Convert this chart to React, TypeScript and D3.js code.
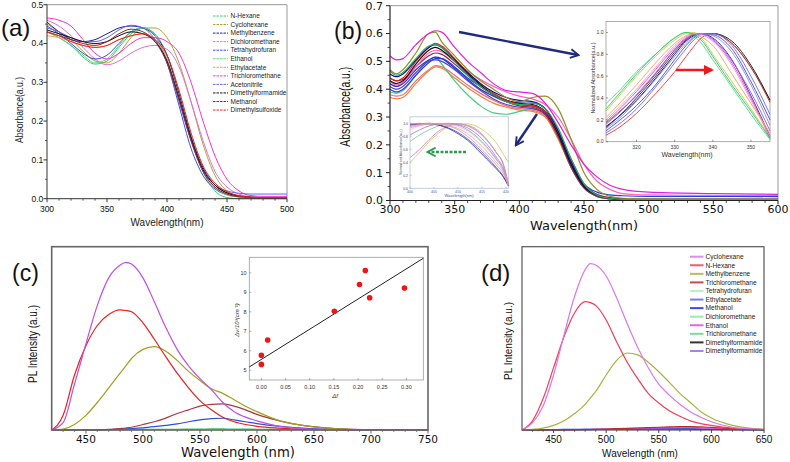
import React from "react";
import * as d3 from "d3";

const NARROW = "'Liberation Sans', Arial, sans-serif";
const WIDE = "'DejaVu Sans', Verdana, sans-serif";

// ---------------- Panel (a) ----------------
const waveA = [300, 310, 320, 330, 340, 350, 360, 370, 380, 390, 400, 410, 420, 430, 440, 450, 460, 470, 480, 490, 500];
const aNHexane = [0.43, 0.415, 0.395, 0.365, 0.347, 0.355, 0.39, 0.425, 0.44, 0.425, 0.37, 0.27, 0.16, 0.07, 0.02, 0.003, 0, 0, 0, 0, 0];
const aCyclohexane = [0.45, 0.43, 0.41, 0.38, 0.355, 0.35, 0.375, 0.415, 0.44, 0.44, 0.415, 0.35, 0.25, 0.14, 0.06, 0.02, 0.006, 0.002, 0.001, 0.001, 0.001];
const aMethylbenzene = [0.455, 0.43, 0.41, 0.405, 0.41, 0.425, 0.44, 0.445, 0.44, 0.42, 0.37, 0.27, 0.16, 0.08, 0.035, 0.015, 0.006, 0.003, 0.002, 0.002, 0.002];
const aDichloromethane = [0.46, 0.445, 0.42, 0.39, 0.36, 0.345, 0.355, 0.375, 0.39, 0.395, 0.385, 0.34, 0.25, 0.15, 0.07, 0.03, 0.012, 0.005, 0.003, 0.003, 0.003];
const aTHF = [0.445, 0.425, 0.4, 0.375, 0.36, 0.37, 0.4, 0.43, 0.44, 0.42, 0.35, 0.24, 0.13, 0.06, 0.025, 0.01, 0.005, 0.003, 0.002, 0.002, 0.002];
const aEthanol = [0.43, 0.415, 0.395, 0.37, 0.35, 0.36, 0.395, 0.43, 0.44, 0.42, 0.36, 0.26, 0.15, 0.07, 0.028, 0.01, 0.004, 0.002, 0.001, 0.001, 0.001];
const aEthylacetate = [0.42, 0.415, 0.405, 0.395, 0.39, 0.395, 0.41, 0.42, 0.425, 0.41, 0.36, 0.26, 0.15, 0.07, 0.03, 0.012, 0.005, 0.002, 0.001, 0.001, 0.001];
const aTrichloromethane = [0.466, 0.46, 0.445, 0.41, 0.375, 0.36, 0.375, 0.4, 0.415, 0.415, 0.405, 0.375, 0.3, 0.2, 0.11, 0.05, 0.02, 0.008, 0.006, 0.006, 0.006];
const aAcetonitrile = [0.44, 0.43, 0.415, 0.405, 0.405, 0.415, 0.435, 0.447, 0.44, 0.41, 0.35, 0.25, 0.15, 0.075, 0.035, 0.02, 0.014, 0.012, 0.012, 0.012, 0.012];
const aDMF = [0.435, 0.425, 0.415, 0.405, 0.4, 0.405, 0.42, 0.43, 0.425, 0.405, 0.355, 0.26, 0.155, 0.075, 0.035, 0.015, 0.007, 0.004, 0.003, 0.003, 0.003];
const aMethanol = [0.43, 0.42, 0.41, 0.4, 0.395, 0.405, 0.425, 0.437, 0.43, 0.405, 0.35, 0.255, 0.15, 0.07, 0.03, 0.012, 0.005, 0.003, 0.002, 0.002, 0.002];
const aDMSO = [0.43, 0.42, 0.405, 0.395, 0.39, 0.395, 0.41, 0.42, 0.425, 0.41, 0.37, 0.28, 0.17, 0.085, 0.04, 0.018, 0.008, 0.004, 0.003, 0.003, 0.003];
const ticksAX = [300, 350, 400, 450, 500];
const ticksAY = [0, 0.1, 0.2, 0.3, 0.4, 0.5];

// ---------------- Panel (b) ----------------
const waveB = [300, 305, 310, 320, 330, 335, 340, 350, 360, 370, 380, 390, 400, 410, 420, 430, 440, 450, 460, 470, 480, 500, 550, 600];
const b1 = [0.52, 0.505, 0.51, 0.56, 0.6, 0.61, 0.605, 0.55, 0.5, 0.46, 0.42, 0.395, 0.39, 0.385, 0.35, 0.28, 0.2, 0.13, 0.085, 0.055, 0.04, 0.03, 0.025, 0.022];
const b2 = [0.47, 0.455, 0.47, 0.53, 0.6, 0.605, 0.57, 0.52, 0.47, 0.43, 0.4, 0.37, 0.355, 0.37, 0.375, 0.33, 0.22, 0.1, 0.04, 0.015, 0.008, 0.006, 0.005, 0.005];
const b3 = [0.465, 0.45, 0.46, 0.51, 0.555, 0.56, 0.55, 0.5, 0.45, 0.41, 0.38, 0.355, 0.345, 0.35, 0.33, 0.26, 0.15, 0.06, 0.02, 0.008, 0.004, 0.003, 0.003, 0.003];
const b4 = [0.44, 0.43, 0.44, 0.5, 0.55, 0.565, 0.555, 0.51, 0.46, 0.42, 0.385, 0.36, 0.345, 0.34, 0.32, 0.25, 0.15, 0.06, 0.022, 0.01, 0.005, 0.004, 0.004, 0.004];
const b5 = [0.43, 0.42, 0.43, 0.49, 0.54, 0.55, 0.54, 0.5, 0.455, 0.415, 0.38, 0.36, 0.35, 0.345, 0.32, 0.24, 0.13, 0.05, 0.02, 0.008, 0.004, 0.003, 0.003, 0.003];
const b6 = [0.455, 0.445, 0.455, 0.505, 0.55, 0.56, 0.55, 0.505, 0.46, 0.42, 0.39, 0.37, 0.36, 0.355, 0.33, 0.25, 0.14, 0.055, 0.02, 0.008, 0.004, 0.003, 0.003, 0.003];
const b7 = [0.4, 0.39, 0.4, 0.45, 0.495, 0.51, 0.51, 0.48, 0.44, 0.41, 0.38, 0.36, 0.35, 0.35, 0.33, 0.25, 0.14, 0.06, 0.03, 0.02, 0.017, 0.015, 0.015, 0.014];
const b8 = [0.42, 0.41, 0.42, 0.47, 0.505, 0.515, 0.51, 0.475, 0.435, 0.4, 0.375, 0.355, 0.345, 0.34, 0.315, 0.24, 0.13, 0.05, 0.02, 0.01, 0.006, 0.005, 0.005, 0.005];
const b9 = [0.37, 0.365, 0.37, 0.42, 0.465, 0.48, 0.475, 0.44, 0.405, 0.375, 0.35, 0.335, 0.325, 0.32, 0.3, 0.22, 0.12, 0.05, 0.02, 0.008, 0.004, 0.003, 0.003, 0.003];
const b10 = [0.39, 0.385, 0.395, 0.45, 0.505, 0.515, 0.49, 0.43, 0.38, 0.34, 0.315, 0.31, 0.32, 0.33, 0.31, 0.23, 0.12, 0.045, 0.015, 0.006, 0.003, 0.002, 0.002, 0.002];
const b11 = [0.43, 0.415, 0.425, 0.48, 0.53, 0.54, 0.535, 0.5, 0.465, 0.435, 0.41, 0.39, 0.375, 0.365, 0.345, 0.3, 0.22, 0.13, 0.07, 0.04, 0.025, 0.02, 0.018, 0.018];
const b12 = [0.44, 0.43, 0.435, 0.48, 0.52, 0.53, 0.525, 0.49, 0.45, 0.41, 0.38, 0.355, 0.34, 0.335, 0.31, 0.23, 0.12, 0.045, 0.015, 0.006, 0.003, 0.002, 0.002, 0.002];
const b13 = [0.41, 0.4, 0.41, 0.46, 0.5, 0.505, 0.5, 0.47, 0.43, 0.395, 0.365, 0.345, 0.335, 0.33, 0.31, 0.235, 0.13, 0.05, 0.02, 0.008, 0.004, 0.003, 0.003, 0.003];
const b14 = [0.38, 0.375, 0.38, 0.43, 0.47, 0.485, 0.48, 0.45, 0.415, 0.385, 0.36, 0.34, 0.33, 0.325, 0.305, 0.225, 0.12, 0.045, 0.015, 0.006, 0.003, 0.002, 0.002, 0.002];
const ticksBX = [300, 350, 400, 450, 500, 550, 600];
const ticksBY = [0, 0.1, 0.2, 0.3, 0.4, 0.5, 0.6, 0.7];

// upper-right inset of (b)
const waveI = [312, 315, 320, 325, 330, 333, 335, 337, 340, 345, 350, 355];
const i1 = [0.35, 0.45, 0.64, 0.8, 0.95, 1.0, 0.97, 0.9, 0.75, 0.5, 0.25, 0.02];
const i2 = [0.28, 0.4, 0.6, 0.78, 0.93, 0.99, 1.0, 0.95, 0.8, 0.55, 0.3, 0.04];
const i3 = [0.06, 0.12, 0.26, 0.44, 0.64, 0.78, 0.87, 0.95, 0.99, 0.9, 0.68, 0.38];
const i4 = [0.14, 0.22, 0.38, 0.58, 0.8, 0.92, 0.97, 0.99, 0.99, 0.92, 0.7, 0.38];
const i5 = [0.17, 0.26, 0.42, 0.62, 0.84, 0.94, 0.98, 0.99, 0.99, 0.9, 0.68, 0.36];
const i6 = [0.1, 0.18, 0.33, 0.52, 0.75, 0.88, 0.95, 0.99, 0.98, 0.85, 0.55, 0.2];
const i7 = [0.08, 0.15, 0.3, 0.5, 0.72, 0.85, 0.93, 0.98, 0.99, 0.88, 0.6, 0.25];
const i8 = [0.13, 0.22, 0.4, 0.6, 0.82, 0.93, 0.98, 0.99, 0.95, 0.75, 0.42, 0.05];
const i9 = [0.18, 0.28, 0.46, 0.66, 0.86, 0.95, 0.99, 0.99, 0.93, 0.72, 0.4, 0.03];
const i10 = [0.2, 0.3, 0.48, 0.68, 0.88, 0.96, 0.99, 0.98, 0.92, 0.7, 0.38, 0.05];
const i11 = [0.16, 0.25, 0.43, 0.63, 0.84, 0.94, 0.98, 0.99, 0.94, 0.74, 0.45, 0.1];
const i12 = [0.22, 0.33, 0.52, 0.72, 0.9, 0.97, 0.99, 0.96, 0.88, 0.62, 0.35, 0.08];
const i13 = [0.3, 0.42, 0.62, 0.8, 0.95, 1.0, 0.98, 0.93, 0.78, 0.52, 0.28, 0.03];
const i14 = [0.12, 0.2, 0.37, 0.57, 0.78, 0.9, 0.96, 0.99, 0.97, 0.82, 0.52, 0.15];
const ticksIX = [320, 330, 340, 350];
const ticksIY = [0, 0.2, 0.4, 0.6, 0.8, 1.0];

// lower-left inset of (b)
const waveL = [400, 402, 404, 406, 408, 410, 412, 414, 416, 418, 419.5, 420.5];
const l1 = [0.4, 0.55, 0.72, 0.85, 0.95, 0.99, 0.99, 0.95, 0.85, 0.7, 0.52, 0.4];
const l2 = [0.47, 0.6, 0.75, 0.88, 0.96, 0.99, 0.97, 0.9, 0.75, 0.55, 0.36, 0.06];
const l3 = [0.72, 0.82, 0.9, 0.96, 0.99, 0.99, 0.96, 0.88, 0.74, 0.55, 0.36, 0.06];
const l4 = [0.82, 0.9, 0.96, 0.99, 1.0, 0.98, 0.93, 0.83, 0.68, 0.48, 0.3, 0.05];
const l5 = [0.97, 0.99, 1.0, 0.98, 0.93, 0.86, 0.76, 0.63, 0.48, 0.32, 0.18, 0.04];
const l6 = [0.98, 0.99, 0.99, 0.97, 0.92, 0.84, 0.74, 0.6, 0.45, 0.3, 0.17, 0.04];
const l7 = [0.95, 0.98, 1.0, 0.99, 0.96, 0.9, 0.8, 0.67, 0.52, 0.36, 0.22, 0.05];
const l8 = [0.9, 0.96, 0.99, 1.0, 0.99, 0.95, 0.88, 0.77, 0.62, 0.44, 0.28, 0.05];
const l9 = [0.99, 1.0, 0.99, 0.99, 0.99, 0.97, 0.9, 0.79, 0.64, 0.45, 0.28, 0.05];
const l10 = [0.93, 0.97, 0.99, 0.99, 0.97, 0.92, 0.84, 0.72, 0.57, 0.4, 0.25, 0.05];
const l11 = [0.99, 0.99, 0.99, 0.99, 0.99, 0.99, 0.96, 0.88, 0.75, 0.55, 0.36, 0.06];
const ticksLX = [400, 405, 410, 415, 420];
const ticksLY = [0, 0.2, 0.4, 0.6, 0.8, 1.0];

// ---------------- Panel (c) ----------------
const waveC = [420, 430, 440, 450, 460, 470, 480, 485, 490, 500, 510, 520, 530, 540, 550, 560, 570, 580, 590, 600, 620, 640, 660, 680, 700, 750];
const cViolet = [0, 0.04, 0.25, 0.47, 0.68, 0.83, 0.9, 0.915, 0.905, 0.83, 0.7, 0.56, 0.44, 0.35, 0.28, 0.22, 0.15, 0.1, 0.07, 0.05, 0.02, 0.008, 0.003, 0.001, 0, 0];
const cRed = [0, 0.08, 0.3, 0.46, 0.57, 0.63, 0.655, 0.652, 0.645, 0.585, 0.495, 0.4, 0.31, 0.23, 0.16, 0.11, 0.07, 0.045, 0.03, 0.02, 0.01, 0.004, 0.002, 0.001, 0, 0];
const cOlive = [0, 0.005, 0.03, 0.08, 0.15, 0.23, 0.31, 0.35, 0.39, 0.44, 0.455, 0.43, 0.38, 0.32, 0.27, 0.225, 0.2, 0.165, 0.13, 0.1, 0.05, 0.025, 0.01, 0.004, 0.001, 0];
const cBrown = [0, 0, 0, 0, 0.001, 0.003, 0.008, 0.011, 0.015, 0.03, 0.045, 0.065, 0.09, 0.11, 0.13, 0.14, 0.142, 0.13, 0.11, 0.085, 0.05, 0.025, 0.012, 0.005, 0.002, 0];
const cBlue = [0, 0, 0, 0, 0, 0.002, 0.005, 0.0065, 0.008, 0.012, 0.018, 0.025, 0.033, 0.045, 0.055, 0.062, 0.064, 0.055, 0.045, 0.035, 0.02, 0.01, 0.005, 0.002, 0.001, 0];
const cGreen = [0, 0, 0, 0, 0, 0, 0.002, 0.002, 0.002, 0.003, 0.003, 0.004, 0.004, 0.005, 0.005, 0.006, 0.006, 0.005, 0.005, 0.004, 0.003, 0.002, 0.001, 0.001, 0, 0];
const ticksCX = [450, 500, 550, 600, 650, 700, 750];
// inset of (c): Lippert–Mataga plot
const dfC = [0, 0, 0.013, 0.151, 0.203, 0.215, 0.224, 0.296];
const dnuC = [5.77, 5.3, 6.55, 8.03, 9.4, 10.12, 8.72, 9.22];
const fitX = [-0.025, 0.335];
const fitY = [5.17, 10.75];
const ticksCIX = [0, 0.05, 0.1, 0.15, 0.2, 0.25, 0.3];
const ticksCIY = [5, 6, 7, 8, 9, 10];

// ---------------- Panel (d) ----------------
const waveD = [420, 430, 440, 450, 460, 470, 480, 485, 490, 500, 510, 520, 530, 540, 550, 560, 570, 580, 590, 600, 620, 640, 650];
const dCyclohexane = [0, 0.04, 0.13, 0.3, 0.52, 0.73, 0.875, 0.908, 0.9, 0.84, 0.72, 0.58, 0.45, 0.34, 0.25, 0.19, 0.14, 0.1, 0.07, 0.045, 0.015, 0.005, 0.002];
const dNHexane = [0, 0.05, 0.17, 0.34, 0.51, 0.64, 0.7, 0.695, 0.68, 0.6, 0.48, 0.37, 0.28, 0.2, 0.147, 0.105, 0.075, 0.05, 0.035, 0.025, 0.01, 0.004, 0.002];
const dMethylbenzene = [0, 0.003, 0.01, 0.025, 0.05, 0.09, 0.14, 0.175, 0.21, 0.3, 0.38, 0.42, 0.41, 0.37, 0.318, 0.26, 0.2, 0.15, 0.1, 0.065, 0.025, 0.008, 0.004];
const dTrichloro = [0, 0, 0, 0, 0, 0.001, 0.002, 0.0025, 0.003, 0.005, 0.007, 0.009, 0.011, 0.013, 0.015, 0.017, 0.019, 0.019, 0.017, 0.014, 0.008, 0.004, 0.002];
const dEthanol = [0, 0, 0, 0, 0, 0.001, 0.002, 0.0025, 0.003, 0.004, 0.006, 0.008, 0.01, 0.011, 0.012, 0.013, 0.014, 0.014, 0.012, 0.01, 0.006, 0.003, 0.002];
const dMethanol = [0, 0, 0.001, 0.002, 0.003, 0.003, 0.004, 0.004, 0.004, 0.004, 0.004, 0.004, 0.004, 0.004, 0.004, 0.004, 0.004, 0.004, 0.003, 0.003, 0.002, 0.001, 0.001];
const dEthylacetate = [0, 0, 0.001, 0.001, 0.002, 0.002, 0.003, 0.003, 0.003, 0.003, 0.004, 0.005, 0.006, 0.007, 0.008, 0.008, 0.008, 0.007, 0.006, 0.005, 0.003, 0.002, 0.001];
const legendD = ["Cyclohexane", "N-Hexane", "Methylbenzene", "Trichloromethane", "Tetrahydrofuran", "Ethylacetate", "Methanol", "Dichloromethane", "Ethanol", "Trichloromethane", "Dimethylformamide", "Dimethylformamide"];
const legendDColors = ["#d77ae8", "#f23c55", "#a9b23e", "#c02a2a", "#a8f0bc", "#5a68e0", "#2626e6", "#88e4a8", "#e24ae2", "#66d488", "#111111", "#9a6ae6"];
const ticksDX = [450, 500, 550, 600, 650];

type Any = any;

function path(xs: number[], ys: number[], x: Any, y: Any) {
  const g = d3.line<number>().x((_: Any, i: number) => x(xs[i])).y((d: number) => y(d)).curve(d3.curveMonotoneX);
  return g(ys) || "";
}

function XTicks(p: Any) {
  const { x, y0, major, minor = [], fmt, font, size, labelY, len = 4, mlen = 2, color = "#333", labelColor = "#111", sw = 1 } = p;
  return (
    <g>
      {minor.map((v: number) => (
        <line key={"m" + v} x1={x(v)} x2={x(v)} y1={y0} y2={y0 + mlen} stroke={color} strokeWidth={sw * 0.8} />
      ))}
      {major.map((v: number) => (
        <g key={"M" + v}>
          <line x1={x(v)} x2={x(v)} y1={y0} y2={y0 + len} stroke={color} strokeWidth={sw} />
          <text x={x(v)} y={labelY} textAnchor="middle" fontFamily={font} fontSize={size} fill={labelColor}>{fmt(v)}</text>
        </g>
      ))}
    </g>
  );
}

function YTicks(p: Any) {
  const { y, x0, major, minor = [], fmt, font, size, labelX, len = 4, mlen = 2, color = "#333", labelColor = "#111", sw = 1 } = p;
  return (
    <g>
      {minor.map((v: number) => (
        <line key={"m" + v} x1={x0} x2={x0 - mlen} y1={y(v)} y2={y(v)} stroke={color} strokeWidth={sw * 0.8} />
      ))}
      {major.map((v: number) => (
        <g key={"M" + v}>
          <line x1={x0} x2={x0 - len} y1={y(v)} y2={y(v)} stroke={color} strokeWidth={sw} />
          <text x={labelX} y={y(v)} dy="0.35em" textAnchor="end" fontFamily={font} fontSize={size} fill={labelColor}>{fmt(v)}</text>
        </g>
      ))}
    </g>
  );
}

function Arrow(p: Any) {
  const { x1, y1, x2, y2, color, id, width = 2.5, dash, filled = false } = p;
  return (
    <g>
      <defs>
        <marker id={id} viewBox="0 0 10 10" refX={filled ? 8 : 8.5} refY={5} markerWidth={filled ? 4 : 4.5} markerHeight={filled ? 4 : 4.5} orient="auto" markerUnits="strokeWidth">
          {filled ? (
            <path d="M0,0 L10,5 L0,10 Z" fill={color} />
          ) : (
            <path d="M1.5,1 L9,5 L1.5,9" fill="none" stroke={color} strokeWidth={1.7} />
          )}
        </marker>
      </defs>
      <line x1={x1} y1={y1} x2={x2} y2={y2} stroke={color} strokeWidth={width} strokeDasharray={dash} markerEnd={`url(#${id})`} />
    </g>
  );
}

export default function App() {
  // scales
  const xA = d3.scaleLinear().domain([300, 500]).range([47, 287]);
  const yA = d3.scaleLinear().domain([0, 0.5]).range([198.7, 4.7]);
  const xB = d3.scaleLinear().domain([300, 600]).range([390, 778]);
  const yB = d3.scaleLinear().domain([0, 0.7]).range([200.5, 5.7]);
  const xI = d3.scaleLinear().domain([312, 355]).range([606, 770]);
  const yI = d3.scaleLinear().domain([0, 1.1]).range([141.7, 21.5]);
  const xL = d3.scaleLinear().domain([400, 420.5]).range([410, 508.3]);
  const yL = d3.scaleLinear().domain([0, 1.1]).range([188.3, 116.8]);
  const xC = d3.scaleLinear().domain([420, 750]).range([51.7, 428]);
  const yC = d3.scaleLinear().domain([0, 1]).range([430, 246.7]);
  const xCI = d3.scaleLinear().domain([-0.025, 0.335]).range([249.3, 423.3]);
  const yCI = d3.scaleLinear().domain([4.5, 10.8]).range([380, 257.3]);
  const xD = d3.scaleLinear().domain([420, 650]).range([522, 764]);
  const yD = d3.scaleLinear().domain([0, 1]).range([430, 246.7]);

  const seriesA = [
    { name: "N-Hexane", color: "#33cc66", v: aNHexane },
    { name: "Cyclohexane", color: "#a3a83a", v: aCyclohexane },
    { name: "Methylbenzene", color: "#1f1fa0", v: aMethylbenzene },
    { name: "Dichloromethane", color: "#e070e0", v: aDichloromethane },
    { name: "Tetrahydrofuran", color: "#3a4fe0", v: aTHF },
    { name: "Ethanol", color: "#55dd88", v: aEthanol },
    { name: "Ethylacetate", color: "#f5a060", v: aEthylacetate },
    { name: "Trichloromethane", color: "#ff33cc", v: aTrichloromethane },
    { name: "Acetonitrile", color: "#6666ee", v: aAcetonitrile },
    { name: "Dimethylformamide", color: "#111111", v: aDMF },
    { name: "Methanol", color: "#8b2a2a", v: aMethanol },
    { name: "Dimethylsulfoxide", color: "#ee2222", v: aDMSO },
  ];
  const seriesB = [
    { c: "#f07070", v: b14 }, { c: "#f08040", v: b9 }, { c: "#40d080", v: b10 }, { c: "#6040c0", v: b13 },
    { c: "#3030c0", v: b8 }, { c: "#2040f0", v: b7 }, { c: "#a02040", v: b12 }, { c: "#ff60c0", v: b11 },
    { c: "#111111", v: b5 }, { c: "#e02020", v: b4 }, { c: "#101090", v: b6 }, { c: "#20b060", v: b3 },
    { c: "#909020", v: b2 }, { c: "#e020e0", v: b1 },
  ];
  const seriesI = [
    { c: "#45e08a", v: i1 }, { c: "#c8c84a", v: i2 }, { c: "#f03030", v: i3 }, { c: "#111111", v: i4 },
    { c: "#a03434", v: i5 }, { c: "#4646e0", v: i6 }, { c: "#6a6af0", v: i7 }, { c: "#22228c", v: i8 },
    { c: "#e040e0", v: i9 }, { c: "#ff8ad8", v: i10 }, { c: "#9a5ad6", v: i11 }, { c: "#f0a45a", v: i12 },
    { c: "#34c468", v: i13 }, { c: "#8888f0", v: i14 },
  ];
  const seriesL = [
    { c: "#c8c850", v: l1 }, { c: "#e870c8", v: l2 }, { c: "#70c890", v: l3 }, { c: "#a070e0", v: l4 },
    { c: "#4646c8", v: l5 }, { c: "#24248a", v: l6 }, { c: "#c88ae8", v: l7 }, { c: "#ffa8e0", v: l8 },
    { c: "#8898c8", v: l9 }, { c: "#e8a868", v: l10 }, { c: "#f088b8", v: l11 },
  ];
  const seriesC = [
    { c: "#40c060", v: cGreen }, { c: "#3050d0", v: cBlue }, { c: "#a83848", v: cBrown },
    { c: "#a0a020", v: cOlive }, { c: "#e82020", v: cRed }, { c: "#c050e0", v: cViolet },
  ];
  const seriesD = [
    { c: "#5a68e0", v: dEthylacetate }, { c: "#2626e6", v: dMethanol }, { c: "#e24ae2", v: dEthanol },
    { c: "#c02a2a", v: dTrichloro }, { c: "#a9b23e", v: dMethylbenzene }, { c: "#f23c55", v: dNHexane },
    { c: "#d77ae8", v: dCyclohexane },
  ];

  const minorA = d3.range(310, 500, 10).filter((v) => v % 50 !== 0);
  const minorAY = [0.05, 0.15, 0.25, 0.35, 0.45];
  const minorB = d3.range(310, 600, 10).filter((v) => v % 50 !== 0);
  const minorBY = [0.05, 0.15, 0.25, 0.35, 0.45, 0.55, 0.65];
  const minorC = d3.range(430, 750, 10).filter((v) => v % 50 !== 0);
  const minorD = d3.range(430, 650, 10).filter((v) => v % 50 !== 0);

  return (
    <svg width={790} height={462} viewBox="0 0 790 462" style={{ position: "absolute", left: 0, top: 0, background: "#fff" }}>
      <rect x={0} y={0} width={790} height={462} fill="#fff" />

      {/* ================= (a) ================= */}
      <g>
        <line x1={xA(300)} x2={xA(500)} y1={yA(0.5)} y2={yA(0.5)} stroke="#999" strokeWidth={1} />
        <line x1={xA(500)} x2={xA(500)} y1={yA(0.5)} y2={yA(0)} stroke="#999" strokeWidth={1} />
        {seriesA.map((s) => (
          <path key={s.name} d={path(waveA, s.v, xA, yA)} fill="none" stroke={s.color} strokeWidth={1} />
        ))}
        <line x1={xA(300)} x2={xA(500)} y1={yA(0)} y2={yA(0)} stroke="#333" strokeWidth={1} />
        <line x1={xA(300)} x2={xA(300)} y1={yA(0.5)} y2={yA(0)} stroke="#333" strokeWidth={1} />
        <XTicks x={xA} y0={yA(0)} major={ticksAX} minor={minorA} fmt={(v: number) => String(v)} font={NARROW} size={8.5} labelY={212.3} len={3.5} mlen={2} />
        <YTicks y={yA} x0={xA(300)} major={ticksAY} minor={minorAY} fmt={(v: number) => v.toFixed(1)} font={NARROW} size={8.5} labelX={43.3} len={3.5} mlen={2} />
        <text x={167} y={226} textAnchor="middle" fontFamily={NARROW} fontSize={10} fill="#222">Wavelength(nm)</text>
        <text transform="translate(22.5,110) rotate(-90)" textAnchor="middle" fontFamily={NARROW} fontSize={11.5} fill="#222" textLength={66} lengthAdjust="spacingAndGlyphs">Absorbance(a.u.)</text>
        <text x={1} y={36} fontFamily={NARROW} fontSize={24} fill="#111">(a)</text>
        {seriesA.map((s, k) => (
          <g key={"lg" + s.name}>
            <line x1={213} x2={228} y1={16 + k * 8.55} y2={16 + k * 8.55} stroke={s.color} strokeWidth={1} strokeDasharray="2.5,1" />
            <text x={230.5} y={16 + k * 8.55} dy="0.35em" fontFamily={NARROW} fontSize={6.5} fill="#222">{s.name}</text>
          </g>
        ))}
      </g>

      {/* ================= (b) ================= */}
      <g>
        <line x1={xB(300)} x2={xB(600)} y1={yB(0.7)} y2={yB(0.7)} stroke="#999" strokeWidth={1} />
        <line x1={xB(600)} x2={xB(600)} y1={yB(0.7)} y2={yB(0)} stroke="#999" strokeWidth={1} />
        {seriesB.map((s, k) => (
          <path key={"b" + k} d={path(waveB, s.v, xB, yB)} fill="none" stroke={s.c} strokeWidth={1.2} />
        ))}
        <line x1={xB(300)} x2={xB(600)} y1={yB(0)} y2={yB(0)} stroke="#222" strokeWidth={1.2} />
        <line x1={xB(300)} x2={xB(300)} y1={yB(0.7)} y2={yB(0)} stroke="#222" strokeWidth={1.2} />
        <XTicks x={xB} y0={yB(0)} major={ticksBX} minor={minorB} fmt={(v: number) => String(v)} font={WIDE} size={11} labelY={213} len={4} mlen={2.5} color="#222" />
        <YTicks y={yB} x0={xB(300)} major={ticksBY} minor={minorBY} fmt={(v: number) => v.toFixed(1)} font={WIDE} size={11} labelX={383} len={4} mlen={2.5} color="#222" />
        <text x={584} y={229.5} textAnchor="middle" fontFamily={WIDE} fontSize={13} fill="#111">Wavelength(nm)</text>
        <text transform="translate(350,106.7) rotate(-90)" textAnchor="middle" fontFamily={NARROW} fontSize={14} fill="#111" textLength={80} lengthAdjust="spacingAndGlyphs">Absorbance(a.u.)</text>
        <text x={334} y={39} fontFamily={NARROW} fontSize={23} fill="#111">(b)</text>

        {/* upper-right inset */}
        <rect x={606} y={21.5} width={164} height={120.2} fill="#fff" stroke="#999" strokeWidth={0.8} />
        {seriesI.map((s, k) => (
          <path key={"i" + k} d={path(waveI, s.v, xI, yI)} fill="none" stroke={s.c} strokeWidth={0.9} />
        ))}
        <XTicks x={xI} y0={141.7} major={ticksIX} fmt={(v: number) => String(v)} font={NARROW} size={5} labelY={148.5} len={-2} color="#555" labelColor="#333" sw={0.6} />
        <YTicks y={yI} x0={606} major={ticksIY} fmt={(v: number) => v.toFixed(1)} font={NARROW} size={5} labelX={603.5} len={-2} color="#555" labelColor="#333" sw={0.6} />
        <text x={687} y={156.5} textAnchor="middle" fontFamily={NARROW} fontSize={7} fill="#333">Wavelength(nm)</text>
        <text transform="translate(595,78) rotate(-90)" textAnchor="middle" fontFamily={NARROW} fontSize={5.5} fill="#333">Normalized Absorbance(a.u.)</text>
        <Arrow id="arRed" x1={676} y1={70} x2={712} y2={70} color="#f01818" width={2.6} filled={true} />

        {/* lower-left inset */}
        <rect x={410} y={116.8} width={98.3} height={71.5} fill="#fff" stroke="#b8c0d8" strokeWidth={0.8} />
        {seriesL.map((s, k) => (
          <path key={"l" + k} d={path(waveL, s.v, xL, yL)} fill="none" stroke={s.c} strokeWidth={0.8} />
        ))}
        <XTicks x={xL} y0={188.3} major={ticksLX} fmt={(v: number) => String(v)} font={NARROW} size={3.5} labelY={192.5} len={-1.5} color="#8890b0" labelColor="#4455aa" sw={0.5} />
        <YTicks y={yL} x0={410} major={ticksLY} fmt={(v: number) => v.toFixed(1)} font={NARROW} size={3.5} labelX={408} len={-1.5} color="#8890b0" labelColor="#445" sw={0.5} />
        <text x={459} y={197} textAnchor="middle" fontFamily={NARROW} fontSize={4} fill="#4455aa">Wavelength(nm)</text>
        <text transform="translate(402,152) rotate(-90)" textAnchor="middle" fontFamily={NARROW} fontSize={3.5} fill="#445">Normalized Absorbance(a.u.)</text>
        <Arrow id="arGreen" x1={466} y1={152} x2={428} y2={152} color="#2e9a50" width={2.4} dash="3,1.5" />

        <Arrow id="arNavy1" x1={459} y1={32} x2={578} y2={55} color="#1f2a7a" width={2.4} />
        <Arrow id="arNavy2" x1={537} y1={114} x2={516} y2={145} color="#1f2a7a" width={2.4} />
      </g>

      {/* ================= (c) ================= */}
      <g>
        {seriesC.map((s, k) => (
          <path key={"c" + k} d={path(waveC, s.v, xC, yC)} fill="none" stroke={s.c} strokeWidth={1.2} />
        ))}
        <rect x={51.7} y={246.7} width={376.3} height={183.3} fill="none" stroke="#666" strokeWidth={1.6} />
        <XTicks x={xC} y0={430} major={ticksCX} minor={minorC} fmt={(v: number) => String(v)} font={WIDE} size={10.5} labelY={443.3} len={3.5} mlen={2} color="#666" />
        <text x={238} y={457} textAnchor="middle" fontFamily={WIDE} fontSize={13.2} fill="#111">Wavelength (nm)</text>
        <text transform="translate(37,344) rotate(-90)" textAnchor="middle" fontFamily={NARROW} fontSize={13} fill="#111" textLength={78} lengthAdjust="spacingAndGlyphs">PL Intensity (a.u.)</text>
        <text x={12} y={281} fontFamily={NARROW} fontSize={23} fill="#111">(c)</text>

        {/* inset */}
        <rect x={249.3} y={257.3} width={174} height={122.7} fill="#fff" stroke="#999" strokeWidth={0.8} />
        <line x1={xCI(fitX[0])} y1={yCI(fitY[0])} x2={xCI(fitX[1])} y2={yCI(fitY[1])} stroke="#222" strokeWidth={1} />
        {dfC.map((d, k) => (
          <circle key={"dot" + k} cx={xCI(d)} cy={yCI(dnuC[k])} r={2.8} fill="#f01414" />
        ))}
        <XTicks x={xCI} y0={380} major={ticksCIX} fmt={(v: number) => v.toFixed(2)} font={NARROW} size={5.5} labelY={388.5} len={-2} color="#777" labelColor="#333" sw={0.6} />
        <YTicks y={yCI} x0={249.3} major={ticksCIY} fmt={(v: number) => String(v)} font={NARROW} size={5.5} labelX={246.5} len={-2} color="#777" labelColor="#333" sw={0.6} />
        <text x={335} y={397.5} textAnchor="middle" fontFamily={NARROW} fontSize={6} fontStyle="italic" fill="#333">Δf</text>
        <text transform="translate(239,320) rotate(-90)" textAnchor="middle" fontFamily={NARROW} fontSize={6} fontStyle="italic" fill="#333">Δν/10³(cm⁻¹)</text>
      </g>

      {/* ================= (d) ================= */}
      <g>
        {seriesD.map((s, k) => (
          <path key={"d" + k} d={path(waveD, s.v, xD, yD)} fill="none" stroke={s.c} strokeWidth={1.2} />
        ))}
        <rect x={522} y={246.7} width={242} height={183.3} fill="none" stroke="#555" strokeWidth={1.2} />
        <XTicks x={xD} y0={430} major={ticksDX} minor={minorD} fmt={(v: number) => String(v)} font={NARROW} size={10} labelY={443.3} len={3} mlen={1.8} color="#444" />
        <text x={640} y={456.5} textAnchor="middle" fontFamily={NARROW} fontSize={10} fill="#111">Wavelength (nm)</text>
        <text transform="translate(511.5,341) rotate(-90)" textAnchor="middle" fontFamily={NARROW} fontSize={11.5} fill="#111" textLength={78} lengthAdjust="spacingAndGlyphs">PL Intensity (a.u.)</text>
        <text x={481} y={281} fontFamily={NARROW} fontSize={24} fill="#111">(d)</text>
        {legendD.map((n, k) => (
          <g key={"ld" + k}>
            <line x1={690} x2={703.5} y1={256.7 + k * 8.57} y2={256.7 + k * 8.57} stroke={legendDColors[k]} strokeWidth={2} strokeOpacity={0.85} />
            <text x={705.5} y={256.7 + k * 8.57} dy="0.35em" fontFamily={NARROW} fontSize={6.6} fill="#222">{n}</text>
          </g>
        ))}
      </g>
    </svg>
  );
}
